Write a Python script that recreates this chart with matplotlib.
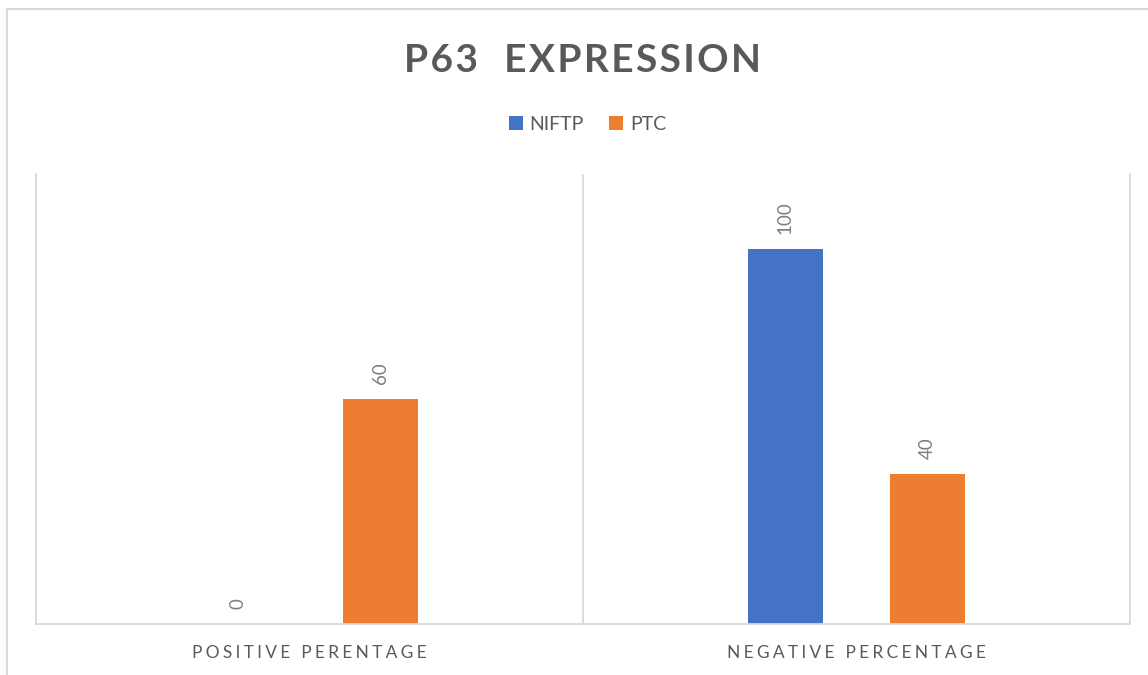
import numpy as np
import matplotlib
matplotlib.use("Agg")
import matplotlib.pyplot as plt
from matplotlib.patches import Rectangle

# Data
categories = ["POSITIVE PERENTAGE", "NEGATIVE PERCENTAGE"]
series_names = ["NIFTP", "PTC"]
niftp_values = [0, 100]
ptc_values = [60, 40]
title_text = "P63  EXPRESSION"

BLUE = "#4472C4"
ORANGE = "#ED7D31"
GRID = "#D9D9D9"
TEXT = "#595959"
LABEL = "#7F7F7F"

plt.rcParams["font.family"] = ["Lato", "DejaVu Sans"]

W, H = 1148, 675
fig = plt.figure(figsize=(W / 100, H / 100), dpi=100)
fig.patch.set_facecolor("white")

# Outer chart frame
frame = Rectangle((7 / W, -0.05), (1170 - 7) / W, 1.05 - 9 / H,
                  transform=fig.transFigure, fill=False,
                  edgecolor=GRID, linewidth=1.5, clip_on=False)
fig.patches.append(frame)

ax = fig.add_axes([36 / W, 1 - 624 / H, (1130 - 36) / W, (624 - 174) / H])

x = np.arange(len(categories))
bar_w = 0.137
offset = 0.13
b1 = ax.bar(x - offset, niftp_values, bar_w, color=BLUE, label=series_names[0])
b2 = ax.bar(x + offset, ptc_values, bar_w, color=ORANGE, label=series_names[1])

for bars in (b1, b2):
    ax.bar_label(bars, rotation=90, padding=11, color=LABEL, fontsize=13.5)

ax.set_xlim(-0.5, 1.5)
ax.set_ylim(0, 120)
ax.set_yticks([])

# Category separators
ax.axvline(0.5, color=GRID, linewidth=1.3, zorder=0)
for side in ("left", "right", "bottom"):
    ax.spines[side].set_color(GRID)
    ax.spines[side].set_linewidth(1.3)
ax.spines["top"].set_visible(False)

# letter-spaced category labels
spaced = ["\u2009\u200a".join(c) for c in categories]
ax.set_xticks(x)
ax.set_xticklabels(spaced, fontsize=12.5, color=TEXT)
ax.tick_params(axis="x", length=0, pad=15)

fig.text(582 / W, 1 - 72 / H, "\u200a".join(title_text), ha="center",
         va="baseline", fontsize=28, fontweight="bold", color=TEXT)

fig.legend(handles=[b1, b2], labels=series_names, loc="center",
           bbox_to_anchor=(587.5 / W, 1 - 124 / H), ncol=2, frameon=False,
           fontsize=14, labelcolor=TEXT, handlelength=0.72, handleheight=0.72,
           handletextpad=0.35, columnspacing=1.3, borderpad=0)

fig.savefig("out.png", dpi=100, facecolor="white")
